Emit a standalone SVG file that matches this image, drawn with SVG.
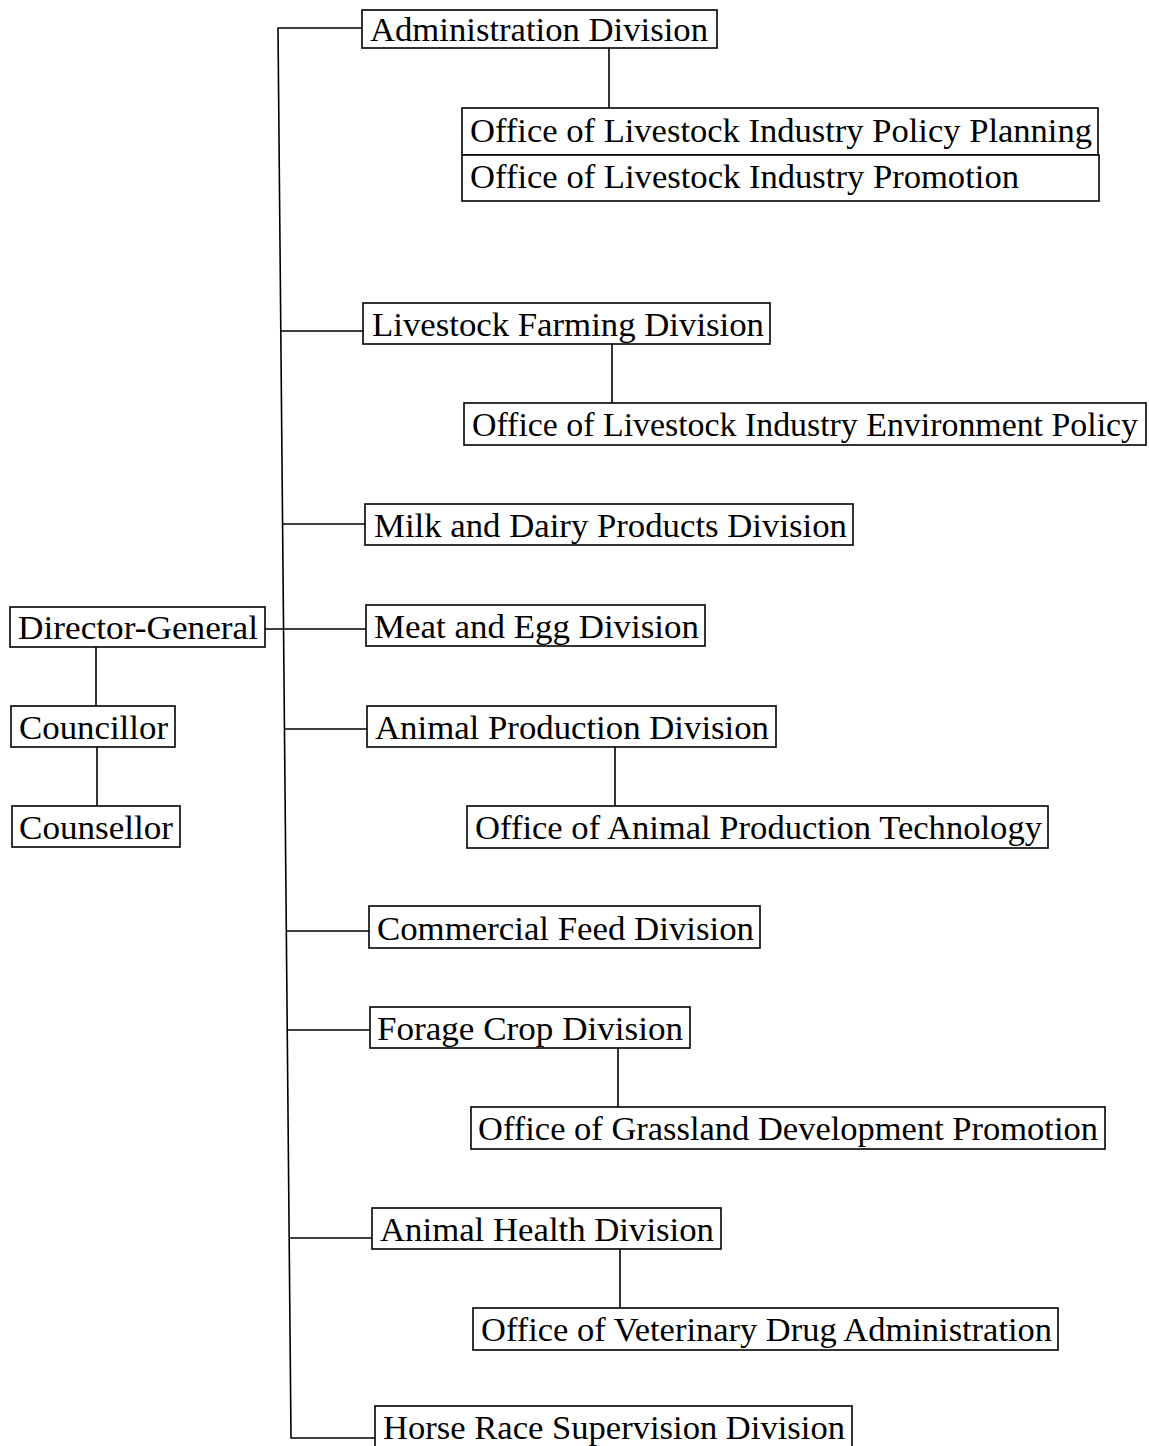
<svg xmlns="http://www.w3.org/2000/svg" width="1149" height="1446" viewBox="0 0 1149 1446">
<style>
  .box { fill: #ffffff; stroke: #000000; stroke-width: 1.6; }
  .lbl { font-family: "Liberation Serif", "Times New Roman", serif; font-size: 33px; fill: #000000; }
  .conn line, .conn polyline { stroke: #000000; stroke-width: 1.6; fill: none; }
</style>
<rect width="1149" height="1446" fill="#ffffff"/>
<g id="connectors" class="conn">
  <polyline points="362,28 278,28 291,1438 375,1438"/>
  <line x1="281" y1="331" x2="363" y2="331"/>
  <line x1="283" y1="524" x2="365" y2="524"/>
  <line x1="265" y1="629" x2="366" y2="629"/>
  <line x1="285" y1="729" x2="367" y2="729"/>
  <line x1="287" y1="931" x2="369" y2="931"/>
  <line x1="288" y1="1030" x2="370" y2="1030"/>
  <line x1="290" y1="1238" x2="372" y2="1238"/>
  <line x1="609" y1="48" x2="609" y2="108"/>
  <line x1="612" y1="344" x2="612" y2="403"/>
  <line x1="615" y1="747" x2="615" y2="806"/>
  <line x1="618" y1="1048" x2="618" y2="1107"/>
  <line x1="620" y1="1249" x2="620" y2="1308"/>
  <line x1="96" y1="647" x2="96" y2="706"/>
  <line x1="97" y1="747" x2="97" y2="806"/>
</g>
<g id="n-admin"><rect class="box" x="362" y="10" width="355" height="38"/><text class="lbl" x="370" y="41" textLength="338" lengthAdjust="spacingAndGlyphs">Administration Division</text></g>
<g id="n-policy"><rect class="box" x="462" y="108" width="636" height="47"/><text class="lbl" x="470" y="142" textLength="622" lengthAdjust="spacingAndGlyphs">Office of Livestock Industry Policy Planning</text></g>
<g id="n-promo"><rect class="box" x="462" y="155" width="637" height="46"/><text class="lbl" x="470" y="188" textLength="549" lengthAdjust="spacingAndGlyphs">Office of Livestock Industry Promotion</text></g>
<g id="n-farming"><rect class="box" x="363" y="303" width="407" height="41"/><text class="lbl" x="372" y="336" textLength="392" lengthAdjust="spacingAndGlyphs">Livestock Farming Division</text></g>
<g id="n-env"><rect class="box" x="464" y="403" width="682" height="42"/><text class="lbl" x="472" y="436" textLength="666" lengthAdjust="spacingAndGlyphs">Office of Livestock Industry Environment Policy</text></g>
<g id="n-milk"><rect class="box" x="365" y="504" width="488" height="41"/><text class="lbl" x="374" y="537" textLength="473" lengthAdjust="spacingAndGlyphs">Milk and Dairy Products Division</text></g>
<g id="n-meat"><rect class="box" x="366" y="605" width="339" height="41"/><text class="lbl" x="374" y="638" textLength="325" lengthAdjust="spacingAndGlyphs">Meat and Egg Division</text></g>
<g id="n-animalprod"><rect class="box" x="367" y="706" width="409" height="41"/><text class="lbl" x="375" y="739" textLength="394" lengthAdjust="spacingAndGlyphs">Animal Production Division</text></g>
<g id="n-apt"><rect class="box" x="467" y="806" width="581" height="42"/><text class="lbl" x="475" y="839" textLength="567" lengthAdjust="spacingAndGlyphs">Office of Animal Production Technology</text></g>
<g id="n-feed"><rect class="box" x="369" y="906" width="391" height="42"/><text class="lbl" x="377" y="940" textLength="377" lengthAdjust="spacingAndGlyphs">Commercial Feed Division</text></g>
<g id="n-forage"><rect class="box" x="370" y="1007" width="320" height="41"/><text class="lbl" x="377" y="1040" textLength="306" lengthAdjust="spacingAndGlyphs">Forage Crop Division</text></g>
<g id="n-grass"><rect class="box" x="471" y="1107" width="634" height="42"/><text class="lbl" x="478" y="1140" textLength="620" lengthAdjust="spacingAndGlyphs">Office of Grassland Development Promotion</text></g>
<g id="n-health"><rect class="box" x="372" y="1208" width="349" height="41"/><text class="lbl" x="380" y="1241" textLength="334" lengthAdjust="spacingAndGlyphs">Animal Health Division</text></g>
<g id="n-vet"><rect class="box" x="473" y="1308" width="585" height="42"/><text class="lbl" x="481" y="1341" textLength="571" lengthAdjust="spacingAndGlyphs">Office of Veterinary Drug Administration</text></g>
<g id="n-horse"><rect class="box" x="375" y="1406" width="477" height="50"/><text class="lbl" x="383" y="1439" textLength="462" lengthAdjust="spacingAndGlyphs">Horse Race Supervision Division</text></g>
<g id="n-dg"><rect class="box" x="10" y="607" width="255" height="40"/><text class="lbl" x="18" y="639" textLength="240" lengthAdjust="spacingAndGlyphs">Director-General</text></g>
<g id="n-councillor"><rect class="box" x="11" y="706" width="164" height="41"/><text class="lbl" x="19" y="739" textLength="149" lengthAdjust="spacingAndGlyphs">Councillor</text></g>
<g id="n-counsellor"><rect class="box" x="12" y="806" width="168" height="41"/><text class="lbl" x="19" y="839" textLength="154" lengthAdjust="spacingAndGlyphs">Counsellor</text></g>
</svg>
